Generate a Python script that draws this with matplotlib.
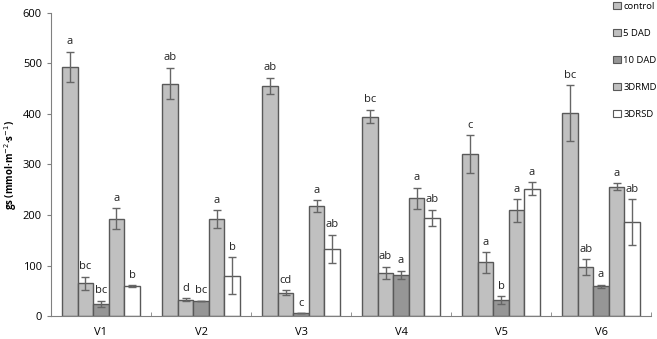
import numpy as np
import matplotlib
matplotlib.use('Agg')
from matplotlib import pyplot as plt
from matplotlib.patches import Patch

plt.rcParams['font.family'] = ['Open Sans', 'DejaVu Sans']

groups = ['V1', 'V2', 'V3', 'V4', 'V5', 'V6']
series = ['control', '5 DAD', '10 DAD', '3DRMD', '3DRSD']

control = [493, 460, 456, 395, 321, 402]
dad5 = [65, 32, 46, 86, 106, 97]
dad10 = [24, 30, 5, 82, 31, 59]
drmd = [193, 192, 217, 233, 209, 256]
drsd = [59, 80, 133, 194, 252, 186]

control_err = [30, 31, 16, 13, 37, 55]
dad5_err = [13, 3, 5, 12, 20, 15]
dad10_err = [6, 0, 0, 8, 8, 3]
drmd_err = [20, 17, 12, 21, 22, 7]
drsd_err = [2, 36, 28, 16, 13, 45]

control_lab = ['a', 'ab', 'ab', 'bc', 'c', 'bc']
dad5_lab = ['bc', 'd', 'cd', 'ab', 'a', 'ab']
dad10_lab = ['bc', 'bc', 'c', 'a', 'b', 'a']
drmd_lab = ['a', 'a', 'a', 'a', 'a', 'a']
drsd_lab = ['b', 'b', 'ab', 'ab', 'a', 'ab']

values = [control, dad5, dad10, drmd, drsd]
errors = [control_err, dad5_err, dad10_err, drmd_err, drsd_err]
labels = [control_lab, dad5_lab, dad10_lab, drmd_lab, drsd_lab]
colors = ['#c0c0c0', '#c0c0c0', '#969696', '#c0c0c0', '#ffffff']
edge = '#595959'

fig = plt.figure(figsize=(6.57, 3.39), dpi=100)
ax = fig.add_axes([0.0776, 0.0678, 0.9134, 0.8939])

x = np.arange(len(groups))
w = 0.155
for i in range(len(series)):
    pos = x + (i - 2) * w
    ax.bar(pos, values[i], w, color=colors[i], edgecolor=edge, linewidth=1.0,
           yerr=errors[i], error_kw=dict(ecolor='#666666', elinewidth=1.0, capsize=3, capthick=1.0),
           label=series[i], zorder=2)
    for p, v, e, t in zip(pos, values[i], errors[i], labels[i]):
        ax.text(p, v + e + 9, t, ha='center', va='bottom', fontsize=8, color='#222222')

ax.set_xlim(-0.5, len(groups) - 0.5)
ax.set_ylim(0, 600)
ax.set_yticks(range(0, 601, 100))
ax.set_xticks(x)
ax.set_xticklabels(groups)
ax.set_xticks(np.arange(0.5, len(groups), 1), minor=True)
ax.tick_params(axis='x', which='major', length=0, pad=8, labelsize=8)
ax.tick_params(axis='x', which='minor', direction='in', length=3, color='#808080')
ax.tick_params(axis='y', direction='out', length=3, color='#808080', labelsize=8)
for s in ['top', 'right']:
    ax.spines[s].set_visible(False)
for s in ['left', 'bottom']:
    ax.spines[s].set_color('#808080')
ax.set_ylabel('gs (mmol·m$^{-2}$·s$^{-1}$)', fontsize=7, fontweight='bold', labelpad=3)

handles = [Patch(facecolor=c, edgecolor=edge, linewidth=0.8) for c in colors]
fig.legend(handles, series, loc='upper left', bbox_to_anchor=(0.928, 1.005), frameon=False,
           fontsize=6.8, handlelength=0.75, handleheight=0.75, handletextpad=0.3,
           labelspacing=1.9, borderaxespad=0)

fig.savefig('out.png', dpi=100)
